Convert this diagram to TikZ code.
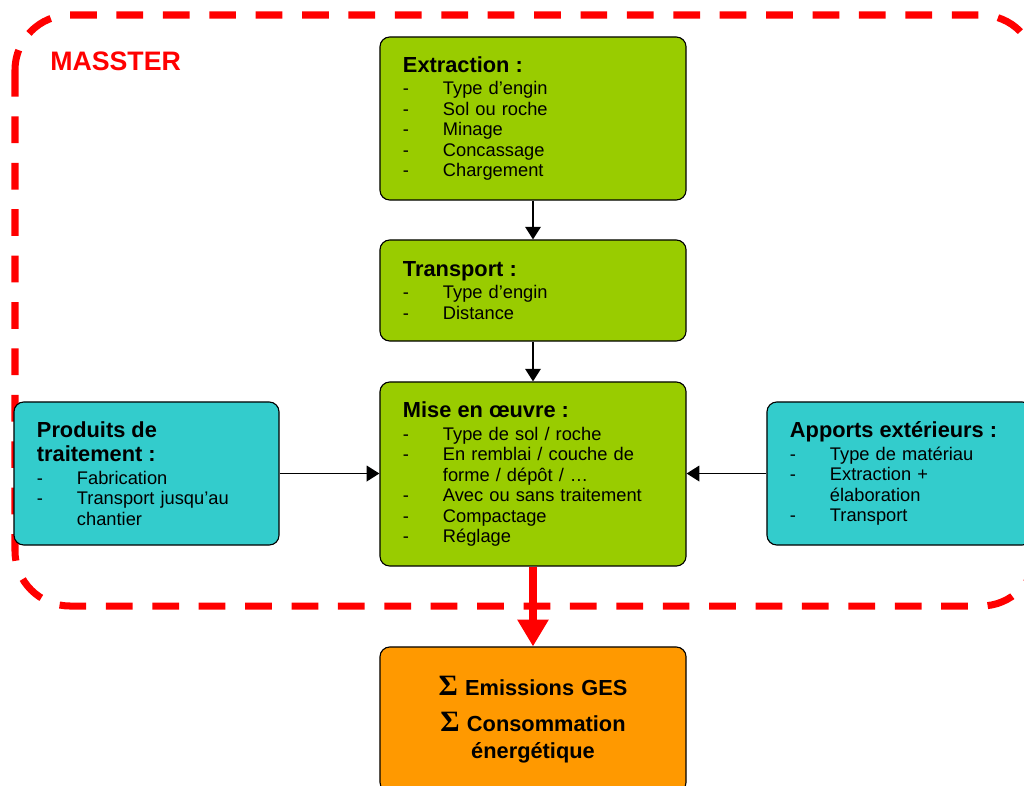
\documentclass[tikz,border=0pt]{standalone}
\usepackage{fontspec}
\setmainfont{Liberation Sans}
\newfontfamily\sigmafont{Liberation Serif}
\usetikzlibrary{arrows.meta, positioning}

\definecolor{boxgreen}{HTML}{99CC00}
\definecolor{boxcyan}{HTML}{33CCCC}
\definecolor{boxorange}{HTML}{FF9900}
\definecolor{massred}{HTML}{FF0000}

\newcommand{\boxhead}[1]{{\noindent\fontsize{15.5}{17}\selectfont\bfseries #1\par}\vspace{1.5pt}}
\newcommand{\boxitem}[1]{\par\noindent\hangindent=1cm\hangafter=1\makebox[1cm][l]{-}#1\par}
\newcommand{\sumsign}{{\fontsize{21}{21}\selectfont\sigmafont\bfseries Σ}}

\tikzset{
  mainbox/.style={draw=black, line width=0.8pt, rounded corners=7pt, align=left, inner xsep=0.575cm, inner ysep=0pt, font=\fontsize{13}{14.6}\selectfont},
  midbox/.style={mainbox, fill=boxgreen, text width=6.5cm},
  sidebox/.style={mainbox, fill=boxcyan, text width=5.475cm, minimum height=3.575cm},
  arr/.style={line width=1.4pt, -{Triangle[length=9pt, width=11pt]}},
  bigarr/.style={massred, line width=5pt, -{Triangle[length=19pt, width=21pt]}},
  massframe/.style={massred, line width=5pt, dash pattern=on 19pt off 14pt, rounded corners=1.375cm}
}

\begin{document}
\begin{tikzpicture}[x=0.025cm, y=-0.025cm]
  \useasboundingbox (0,0) rectangle (1024,785);
  \clip (0,0) rectangle (1024,785);

  % MASSTER frame
  \draw[massframe] (15,15) rectangle (1036,606);
  \node[anchor=base west, inner sep=0pt, text=massred, font=\fontsize{19}{19}\selectfont\bfseries] (masster) at (50,70) {MASSTER};

  % Chain in the middle
  \node[midbox, minimum height=4.075cm] (extr) at (533,118.5) {%
    \boxhead{Extraction :}
    \boxitem{Type d’engin}
    \boxitem{Sol ou roche}
    \boxitem{Minage}
    \boxitem{Concassage}
    \boxitem{Chargement}};
  \node[midbox, minimum height=2.525cm] (transp) at (533,290.5) {%
    \boxhead{Transport :}
    \boxitem{Type d’engin}
    \boxitem{Distance}};
  \node[midbox, minimum height=4.6cm] (mise) at (533,474) {%
    \boxhead{Mise en œuvre :}
    \boxitem{Type de sol / roche}
    \boxitem{En remblai / couche de\newline forme / dépôt / …}
    \boxitem{Avec ou sans traitement}
    \boxitem{Compactage}
    \boxitem{Réglage}};

  % Side inputs
  \node[sidebox] (prod) at (146.5,473.5) {%
    \boxhead{Produits de\newline traitement :}
    \boxitem{Fabrication}
    \boxitem{Transport jusqu’au\newline chantier}};
  \node[sidebox] (apports) at (899.5,473.5) {%
    \boxhead{Apports extérieurs :}
    \boxitem{Type de matériau}
    \boxitem{Extraction +\newline élaboration}
    \boxitem{Transport}};

  % Result
  \node[mainbox, fill=boxorange, text width=6.5cm, align=center, minimum height=3.625cm, font=\fontsize{15.5}{19}\selectfont\bfseries] (emis) at (533,719.5)
    {\sumsign{} Emissions GES\\[7pt] \sumsign{} Consommation\\ énergétique};

  % Arrows
  \foreach \a/\b in {extr/transp, transp/mise}
    \draw[arr] (\a) -- (\b);
  \draw[arr] (prod.east) -- (prod.east -| mise.west);
  \draw[arr] (apports.west) -- (apports.west -| mise.east);
  \draw[bigarr] (mise.south) -- (emis.north);
\end{tikzpicture}
\end{document}
